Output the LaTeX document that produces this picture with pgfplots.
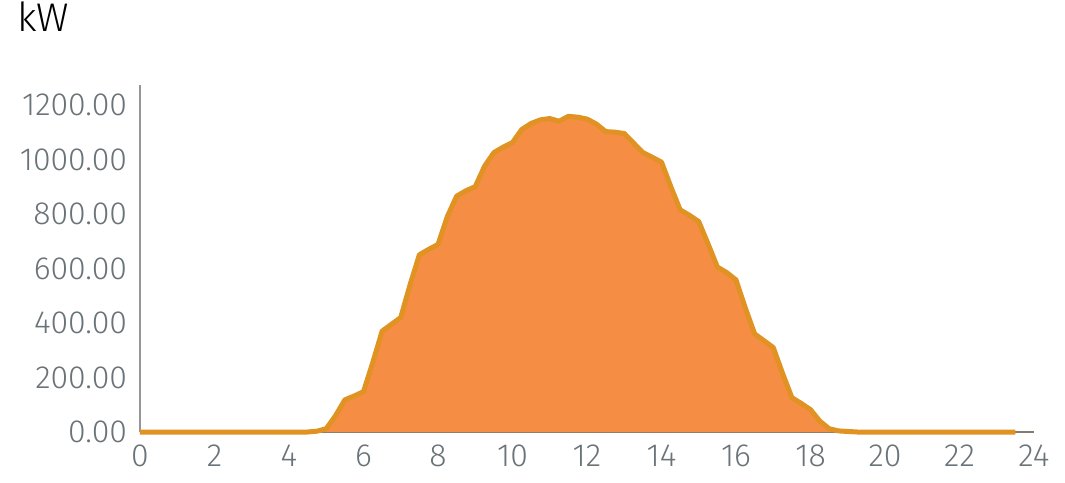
\documentclass[border=0pt]{standalone}
\usepackage{pgfplots}
\pgfplotsset{compat=1.18}
\usepackage{fontspec}
\setmainfont{Fira Sans}[UprightFont={* Light}]
\definecolor{areafill}{RGB}{245,142,68}
\definecolor{arealine}{RGB}{224,146,34}
\definecolor{ticktext}{RGB}{105,115,120}
\definecolor{axisgray}{RGB}{150,150,150}

\pgfplotstableread{
h p
0 0
4.5 0
4.75 3
5 12
5.25 60
5.5 118
5.75 132
6 148
6.25 255
6.5 370
6.75 395
7 420
7.25 540
7.5 650
7.75 670
8 688
8.25 790
8.5 865
8.75 885
9 900
9.25 975
9.5 1025
9.75 1045
10 1062
10.25 1110
10.5 1132
10.75 1145
11 1150
11.25 1140
11.5 1158
11.75 1155
12 1148
12.25 1130
12.5 1102
12.75 1100
13 1095
13.25 1060
13.5 1025
13.75 1008
14 990
14.25 900
14.5 815
14.75 795
15 772
15.25 690
15.5 605
15.75 585
16 558
16.25 455
16.5 360
16.75 335
17 310
17.25 215
17.5 126
17.75 105
18 82
18.25 40
18.5 12
18.75 4
19 2
19.25 0
23.5 0
}\pvdata

\begin{document}
\begin{tikzpicture}
\useasboundingbox (-70pt,-25pt) rectangle (462.5pt,216pt);
\begin{axis}[
  at={(0,0)}, anchor=south west,
  scale only axis,
  width=447pt, height=173.5pt,
  xmin=0, xmax=24, ymin=0, ymax=1273,
  xtick={0,2,...,24},
  ytick={0,200,...,1200},
  axis x line*=bottom, axis y line*=left,
  axis line style={axisgray, line width=0.6pt, -},
  x axis line style={draw={rgb,255:red,130;green,125;blue,110}},
  major tick length=0pt,
  tick label style={font=\fontsize{16}{18}\selectfont, text=ticktext},
  /pgf/number format/assume math mode=true,
  yticklabel style={xshift=-3pt, /pgf/number format/fixed, /pgf/number format/fixed zerofill,
    /pgf/number format/precision=2, /pgf/number format/1000 sep={}},
  xticklabel style={yshift=-3pt},
  clip=false,
]
  \addplot[fill=areafill, draw=none] table[x=h, y=p] {\pvdata} \closedcycle;
  \addplot[arealine, line width=2.5pt, line join=round] table[x=h, y=p] {\pvdata};
\end{axis}
\node[anchor=base west, inner sep=0pt, font=\fontsize{20}{22}\selectfont] at (-61.5pt,200pt) {kW};
\end{tikzpicture}
\end{document}
